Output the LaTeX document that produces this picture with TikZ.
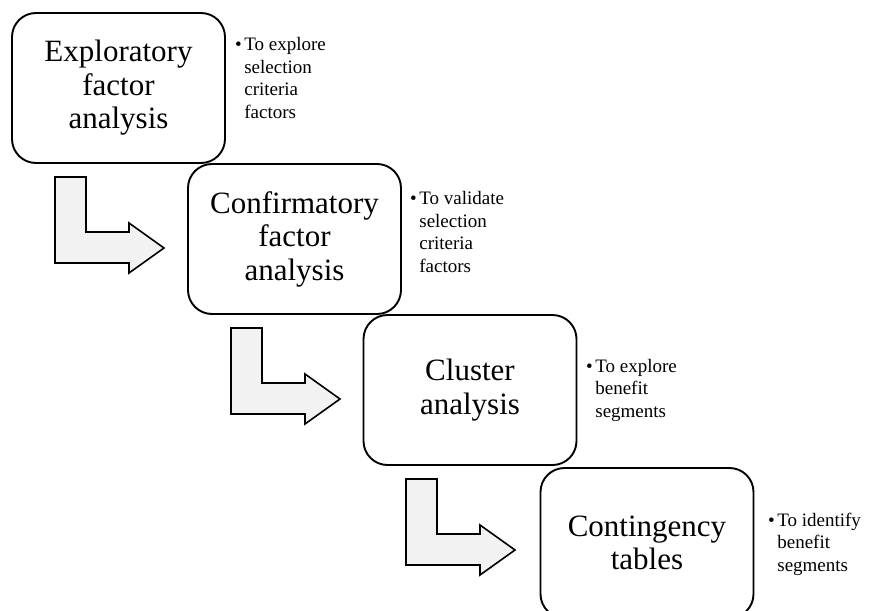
\documentclass[tikz,border=0pt]{standalone}
\usepackage{fontspec}
\setmainfont{Liberation Serif}
\begin{document}
\begin{tikzpicture}[x=1pt,y=-1pt,
  stagebox/.style={draw=black,line width=1.9pt,rounded corners=24pt,fill=white,
    minimum width=213pt,minimum height=150pt,align=center,inner sep=0pt,
    font=\fontsize{31}{33.5}\selectfont},
  note/.style={anchor=west,inner sep=0pt,font=\fontsize{19}{22.5}\selectfont},
  blockarrow/.style={draw=black,line width=1.6pt,fill=gray!10,line join=miter}]
\clip (0,0) rectangle (882,610);
\node[stagebox] (b1) at (118.5,88) {Exploratory\\factor\\analysis};
\node[stagebox] (b2) at (294.5,239) {Confirmatory\\factor\\analysis};
\node[stagebox] (b3) at (470,390) {Cluster\\analysis};
\node[stagebox] (b4) at (647,543) {Contingency\\tables};
\node[note] (t1) at (235,80) {\begin{tabular}{@{}l@{\hspace{2.5pt}}l@{}}\textbullet&To explore\\&selection\\&criteria\\&factors\end{tabular}};
\node[note] (t2) at (410,234) {\begin{tabular}{@{}l@{\hspace{2.5pt}}l@{}}\textbullet&To validate\\&selection\\&criteria\\&factors\end{tabular}};
\node[note] (t3) at (586,390) {\begin{tabular}{@{}l@{\hspace{2.5pt}}l@{}}\textbullet&To explore\\&benefit\\&segments\end{tabular}};
\node[note] (t4) at (768,544) {\begin{tabular}{@{}l@{\hspace{2.5pt}}l@{}}\textbullet&To identify\\&benefit\\&segments\end{tabular}};
\foreach \dx/\dy in {0/0,176/151,351/302}{
  \begin{scope}[shift={(\dx,\dy)}]
  \draw[blockarrow] (55,177) -- (86,177) -- (86,232) -- (129,232) -- (129,223)
    -- (164,248) -- (129,273) -- (129,263) -- (55,263) -- cycle;
  \end{scope}
}
\end{tikzpicture}
\end{document}
